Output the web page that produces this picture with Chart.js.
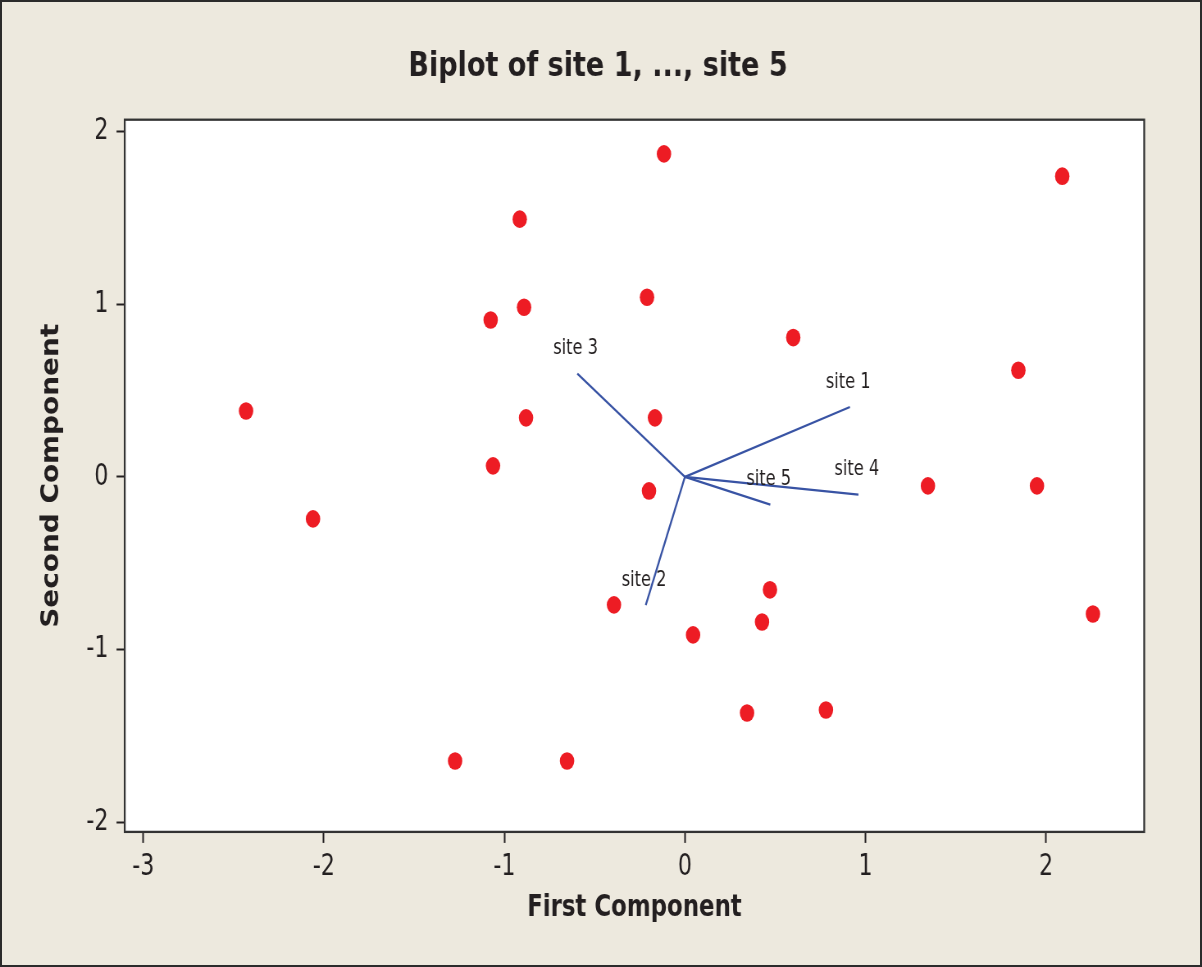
<!DOCTYPE html>
<html>
<head>
<meta charset="utf-8">
<title>Biplot of site 1, ..., site 5</title>
<script src="https://cdn.jsdelivr.net/npm/chart.js@4/dist/chart.umd.min.js"></script>
<style>
  html, body { margin: 0; padding: 0; overflow: hidden; background: #EDE9DE; }
  #stage { position: absolute; left: 0; top: 0; width: 1466px; height: 967px;
           transform: scaleX(0.81992); transform-origin: 0 0; }
  #edge { position: absolute; left: 0; top: 0; width: 1202px; height: 967px;
          box-sizing: border-box; border: 2px solid #2b2b2b; pointer-events: none; }
</style>
</head>
<body>
<div id="stage"><canvas id="c" width="1466" height="967"></canvas></div>
<div id="edge"></div>
<script>
// Observation scores (first and second principal component)
const pointX = [-2.431, -2.060, -1.273, -0.653, -1.076, -1.063, -0.915, -0.891, -0.880, -0.393,
                -0.199, -0.210, -0.166, -0.116, 0.045, 0.344, 0.427, 0.471, 0.600, 0.781,
                1.346, 1.847, 1.950, 2.090, 2.260];
const pointY = [0.382, -0.243, -1.645, -1.645, 0.909, 0.064, 1.493, 0.983, 0.342, -0.741,
                -0.081, 1.041, 0.342, 1.871, -0.915, -1.367, -0.840, -0.654, 0.807, -1.350,
                -0.052, 0.618, -0.052, 1.742, -0.794];

// Variable loadings drawn as vectors from the origin
const siteNames = ['site 1', 'site 2', 'site 3', 'site 4', 'site 5'];
const loadX = [0.914, -0.217, -0.596, 0.961, 0.473];
const loadY = [0.405, -0.743, 0.598, -0.102, -0.160];

// Axis ticks and ranges
const xTickValues = [-3, -2, -1, 0, 1, 2];
const yTickValues = [-2, -1, 0, 1, 2];
const xRange = [-3.103, 2.544];
const yRange = [-2.056, 2.069];

const INK = '#231F20';
const RED = '#ED1C24';
const BLUE = '#3853A4';
const NARROW = "'DejaVu Sans Condensed', 'DejaVu Sans', sans-serif";

const scorePoints = pointX.map((x, i) => ({ x: x, y: pointY[i] }));
const vectorSets = siteNames.map((name, i) => ({
  label: name,
  data: [{ x: 0, y: 0 }, { x: loadX[i], y: loadY[i] }],
  showLine: true,
  borderColor: BLUE,
  borderWidth: 2.3,
  pointRadius: 0,
  pointHoverRadius: 0,
  fill: false
}));

// White plotting panel with a dark frame
const panelPlugin = {
  id: 'panel',
  beforeDraw(chart) {
    const { ctx, chartArea: a } = chart;
    ctx.save();
    ctx.fillStyle = '#FFFFFF';
    ctx.fillRect(a.left, a.top, a.right - a.left, a.bottom - a.top);
    ctx.restore();
  },
  afterDraw(chart) {
    const { ctx, chartArea: a } = chart;
    ctx.save();
    ctx.strokeStyle = '#333333';
    ctx.lineWidth = 2.3;
    ctx.strokeRect(a.left, a.top, a.right - a.left, a.bottom - a.top);
    ctx.restore();
  }
};

// Site names written just above each vector tip
const vectorLabelPlugin = {
  id: 'vectorLabels',
  afterDatasetsDraw(chart) {
    const { ctx } = chart;
    const xs = chart.scales.x, ys = chart.scales.y;
    ctx.save();
    ctx.font = '22px ' + NARROW;
    ctx.fillStyle = INK;
    ctx.textAlign = 'center';
    ctx.textBaseline = 'middle';
    siteNames.forEach((name, i) => {
      const px = xs.getPixelForValue(loadX[i]);
      const py = ys.getPixelForValue(loadY[i]);
      ctx.fillText(name, px - 2, py - 25);
    });
    ctx.restore();
  }
};

new Chart(document.getElementById('c'), {
  type: 'scatter',
  data: {
    datasets: [
      {
        label: 'scores',
        data: scorePoints,
        backgroundColor: RED,
        borderColor: RED,
        borderWidth: 0,
        pointRadius: 8.8,
        pointHoverRadius: 8.8
      },
      ...vectorSets
    ]
  },
  options: {
    responsive: false,
    devicePixelRatio: 1,
    animation: false,
    events: [],
    layout: { padding: { left: 0, top: 0, right: 7.4, bottom: 0 } },
    plugins: {
      legend: { display: false },
      tooltip: { enabled: false },
      title: {
        display: true,
        text: 'Biplot of site 1, ..., site 5',
        color: INK,
        font: { family: "'DejaVu Sans', sans-serif", size: 33, weight: 'bold', lineHeight: 1.2 },
        padding: { top: 47.2, bottom: 32.9 }
      }
    },
    scales: {
      x: {
        type: 'linear',
        position: 'bottom',
        min: xRange[0],
        max: xRange[1],
        afterBuildTicks: s => { s.ticks = xTickValues.map(v => ({ value: v })); },
        afterFit: s => { s.height = 135.1; },
        grid: { display: true, drawOnChartArea: false, drawTicks: true,
                tickLength: 11, tickWidth: 2, tickColor: INK },
        border: { display: false },
        ticks: { color: INK, padding: 6, font: { family: NARROW, size: 30, lineHeight: 1.2 },
                 maxRotation: 0, autoSkip: false },
        title: { display: true, text: 'First Component', color: INK,
                 font: { family: NARROW, size: 31, weight: 'bold', lineHeight: 1.2 },
                 padding: { top: 0, bottom: 40.9 } }
      },
      y: {
        type: 'linear',
        position: 'left',
        min: yRange[0],
        max: yRange[1],
        afterBuildTicks: s => { s.ticks = yTickValues.map(v => ({ value: v })); },
        afterFit: s => { s.width = 152.1; },
        grid: { display: true, drawOnChartArea: false, drawTicks: true,
                tickLength: 10, tickWidth: 2, tickColor: INK },
        border: { display: false },
        ticks: { color: INK, padding: 10, font: { family: NARROW, size: 30, lineHeight: 1.2 },
                 autoSkip: false },
        title: { display: true, text: 'Second Component', color: INK,
                 font: { family: NARROW, size: 31, weight: 'bold', lineHeight: 1.2 },
                 padding: { top: 44.4, bottom: 0 } }
      },
      margin: {
        type: 'linear',
        position: 'right',
        min: 0,
        max: 1,
        afterFit: s => { s.width = 63.1; },
        grid: { display: false },
        border: { display: false },
        ticks: { display: false }
      }
    }
  },
  plugins: [panelPlugin, vectorLabelPlugin]
});
</script>
</body>
</html>
